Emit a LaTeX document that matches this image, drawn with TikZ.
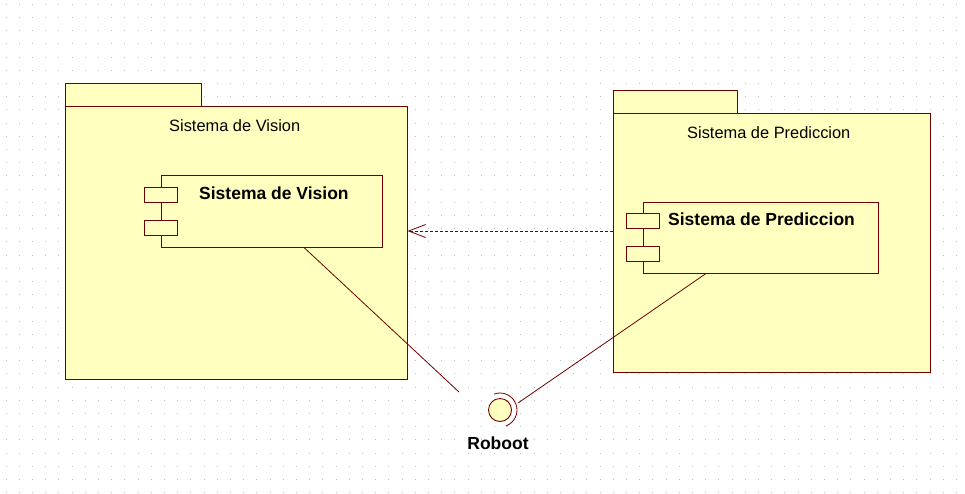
\documentclass[tikz,border=0pt]{standalone}
\usepackage{fontspec}
\setmainfont{Liberation Sans}
\usetikzlibrary{arrows.meta,positioning,calc}
\definecolor{umlline}{RGB}{110,0,0}
\definecolor{umlfill}{RGB}{255,255,192}
\definecolor{griddot}{RGB}{190,190,190}

\begin{document}
\begin{tikzpicture}
                [
                    x=1pt, y=-1pt,
                    pkgbody/.style={rectangle, draw=umlline, fill=umlfill, line width=1pt, inner sep=0pt},
                    pkgtab/.style={rectangle, draw=umlline, fill=umlfill, line width=1pt, inner sep=0pt, minimum height=23},
                    compbox/.style={rectangle, draw=umlline, fill=umlfill, line width=1pt, inner sep=0pt},
                    compport/.style={rectangle, draw=umlline, fill=umlfill, line width=1pt, inner sep=0pt, minimum width=33, minimum height=15},
                    iface/.style={circle, draw=umlline, fill=umlfill, line width=0.9pt, inner sep=0pt, minimum size=23},
                    pkgtitle/.style={font=\fontsize{16.4}{19}\selectfont, anchor=base west, inner sep=0pt},
                    comptitle/.style={font=\bfseries\fontsize{17.5}{21}\selectfont, anchor=base west, inner sep=0pt},
                    link/.style={draw=umlline, line width=0.8pt},
                    depend/.style={draw=umlline, line width=0.8pt, dash pattern=on 3pt off 2pt, -{Straight Barb[length=17pt,width=13pt,line width=0.8pt]}}
                ]

                \useasboundingbox (0,0) rectangle (965,493);
                \fill [white] (0,0) rectangle (965,493);
                % dotted drawing grid
                \foreach \i in {0,...,72}
                    \foreach \j in {0,...,37}
                        \fill [griddot] (5.5+13.2*\i, 3.8+13.2*\j) rectangle ++(1,1);

                % packages
                \node [pkgtab, minimum width=136] (vistab) at (133,94.5) {};
                \node [pkgbody, minimum width=342, minimum height=273] (vispkg) at (236,242.5) {};
                \node [pkgtab, minimum width=124] (prdtab) at (675,101.5) {};
                \node [pkgbody, minimum width=317, minimum height=259] (prdpkg) at (771.5,242.5) {};

                \node [pkgtitle] (vistitle) at (169,131) {Sistema de Vision};
                \node [pkgtitle] (prdtitle) at (687,138) {Sistema de Prediccion};

                % components
                \node [compbox, minimum width=221, minimum height=72] (viscomp) at (271.5,211) {};
                \node [compport] (visport1) at (160.5,194.5) {};
                \node [compport] (visport2) at (160.5,227.5) {};
                \node [comptitle] (visname) at (199,199.5) {Sistema de Vision};

                \node [compbox, minimum width=235, minimum height=71] (prdcomp) at (760.5,237.5) {};
                \node [compport] (prdport1) at (642.5,221) {};
                \node [compport] (prdport2) at (642.5,254) {};
                \node [comptitle] (prdname) at (668,225) {Sistema de Prediccion};

                % interface
                \node [iface] (robot) at (500,410) {};
                \draw [link] ($(robot)+(-110:17)$) arc [start angle=-110, end angle=70, radius=17];
                \node [comptitle, anchor=north, below=15pt of robot, xshift=-2pt] (robotname) {Roboot};

                \coordinate (vislink) at (459,392);
                \coordinate (prdlink) at (518,403);

                \draw [depend] ($(prdpkg.west)+(0,-11.5)$) -- ($(vispkg.east)+(0,-11.5)$);
                \draw [link] ($(viscomp.south)+(32.5,0)$) -- (vislink);
                \draw [link] ($(prdcomp.south)+(-54.5,0)$) -- (prdlink);

            \end{tikzpicture}
\end{document}
